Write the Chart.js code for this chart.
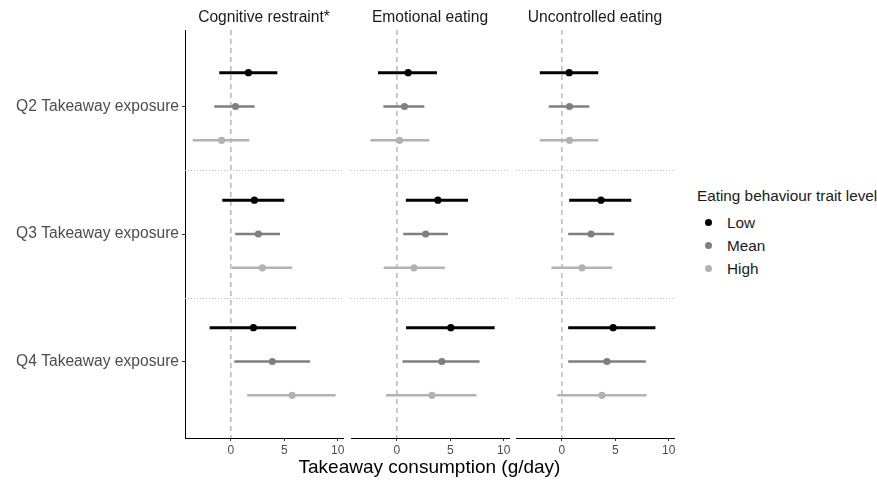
<!DOCTYPE html>
<html lang="en">
<head>
  <meta charset="UTF-8">
  <title>Takeaway consumption</title>
  <style>
    body { margin: 0; background: #fff; font-family: "Liberation Sans", Arial, sans-serif; }
    #wrap { position: relative; width: 877px; height: 484px; overflow: hidden; }
    canvas { position: absolute; top: 0; }
    .strip { position: absolute; top: 8px; width: 158px; text-align: center; font-size: 15.6px; color: #1a1a1a; white-space: nowrap; }
    .xtitle { position: absolute; left: 185px; width: 489px; top: 456px; text-align: center; font-size: 19px; color: #000; }
    .legend { position: absolute; left: 697px; top: 187px; font-size: 15.3px; color: #1a1a1a; white-space: nowrap; }
    .legend .item { position: relative; height: 23px; line-height: 23px; padding-left: 30px; }
    .legend .dot { position: absolute; left: 8px; top: 8px; width: 7px; height: 7px; border-radius: 50%; }
  </style>
</head>
<body>
  <div id="wrap">
    <canvas id="p0" width="353" height="484" style="left:0px"></canvas>
    <canvas id="p1" width="178" height="484" style="left:341px"></canvas>
    <canvas id="p2" width="178" height="484" style="left:506px"></canvas>
    <div class="strip" style="left:185px">Cognitive restraint*</div>
    <div class="strip" style="left:351px">Emotional eating</div>
    <div class="strip" style="left:516px">Uncontrolled eating</div>
    <div class="xtitle">Takeaway consumption (g/day)</div>
    <div class="legend" id="legend">
      <div style="margin-bottom:6px">Eating behaviour trait level</div>
    </div>
  </div>

  <script src="https://cdn.jsdelivr.net/npm/chart.js"></script>
  <script>
    const categories = ['Q2 Takeaway exposure', 'Q3 Takeaway exposure', 'Q4 Takeaway exposure'];
    const traits = ['Cognitive restraint*', 'Emotional eating', 'Uncontrolled eating'];
    const levels = ['Low', 'Mean', 'High'];
    const xTicks = [0, 5, 10];

    // rows: Low, Mean, High ; columns: Q2, Q3, Q4
    const cognitiveEst = [[1.64, 2.20, 2.11], [0.43, 2.57, 3.88], [-0.87, 2.95, 5.74]];
    const cognitiveLo  = [[-1.09, -0.81, -1.99], [-1.56, 0.40, 0.31], [-3.58, 0.09, 1.52]];
    const cognitiveHi  = [[4.35, 5.00, 6.11], [2.23, 4.60, 7.42], [1.73, 5.74, 9.81]];

    const emotionalEst = [[1.05, 3.84, 5.05], [0.71, 2.70, 4.21], [0.25, 1.61, 3.28]];
    const emotionalLo  = [[-1.77, 0.84, 0.86], [-1.27, 0.59, 0.52], [-2.48, -1.24, -1.02]];
    const emotionalHi  = [[3.75, 6.66, 9.16], [2.57, 4.77, 7.74], [3.03, 4.49, 7.46]];

    const uncontrolledEst = [[0.68, 3.66, 4.80], [0.71, 2.73, 4.22], [0.71, 1.89, 3.75]];
    const uncontrolledLo  = [[-2.07, 0.68, 0.59], [-1.23, 0.59, 0.59], [-2.07, -0.99, -0.43]];
    const uncontrolledHi  = [[3.41, 6.50, 8.76], [2.57, 4.89, 7.86], [3.41, 4.71, 7.93]];

    const panels = [
      [cognitiveEst, cognitiveLo, cognitiveHi],
      [emotionalEst, emotionalLo, emotionalHi],
      [uncontrolledEst, uncontrolledLo, uncontrolledHi]
    ];

    const colors = ['#000000', '#7f7f7f', '#b2b2b2'];
    const dodge = [-0.265, 0, 0.265];
    const font = 'Liberation Sans, Arial, sans-serif';

    // legend
    const legend = document.getElementById('legend');
    levels.forEach((l, i) => {
      const d = document.createElement('div');
      d.className = 'item';
      d.innerHTML = `<span class="dot" style="background:${colors[i]}"></span>${l}`;
      legend.appendChild(d);
    });

    const refLines = {
      id: 'refLines',
      beforeDatasetsDraw(chart) {
        const { ctx, chartArea: a, scales: { x, y } } = chart;
        ctx.save();
        ctx.lineWidth = 1;
        ctx.strokeStyle = '#bdbdbd';
        ctx.setLineDash([1, 2]);
        for (let i = 0; i < categories.length - 1; i++) {
          const py = Math.round(y.getPixelForValue(i + 1.5)) + 0.5;
          ctx.beginPath(); ctx.moveTo(a.left, py); ctx.lineTo(a.right, py); ctx.stroke();
        }
        ctx.strokeStyle = '#a6a6a6';
        ctx.lineWidth = 1.2;
        ctx.setLineDash([5, 4]);
        const px = x.getPixelForValue(0);
        ctx.beginPath(); ctx.moveTo(px, a.top); ctx.lineTo(px, a.bottom); ctx.stroke();
        ctx.restore();
      }
    };

    panels.forEach((p, k) => {
      const [est, lo, hi] = p;
      const datasets = [];
      levels.forEach((lev, li) => {
        datasets.push({
          type: 'scatter',
          label: lev,
          data: categories.map((c, ci) => ({ x: est[li][ci], y: ci + 1 + dodge[li] })),
          backgroundColor: colors[li],
          borderColor: colors[li],
          pointRadius: 3.6,
          pointBorderWidth: 0,
          order: 0
        });
        categories.forEach((c, ci) => {
          datasets.push({
            type: 'line',
            data: [{ x: lo[li][ci], y: ci + 1 + dodge[li] }, { x: hi[li][ci], y: ci + 1 + dodge[li] }],
            borderColor: colors[li],
            borderWidth: li === 0 ? 3 : 2.6,
            pointRadius: 0,
            fill: false,
            order: 1
          });
        });
      });

      new Chart(document.getElementById('p' + k), {
        type: 'scatter',
        data: { datasets },
        plugins: [refLines],
        options: {
          responsive: false,
          animation: false,
          events: [],
          layout: { padding: { top: 30, bottom: 26, left: k === 0 ? 0 : 10, right: 10 } },
          plugins: { legend: { display: false }, tooltip: { enabled: false } },
          scales: {
            x: {
              type: 'linear', min: -4.3, max: 10.5,
              afterBuildTicks: s => { s.ticks = xTicks.map(v => ({ value: v })); },
              afterFit: s => { s.height = 20; },
              grid: { drawOnChartArea: false, drawTicks: true, tickLength: 3, color: '#333' },
              border: { display: true, color: '#000', width: 1 },
              ticks: { padding: 2, color: '#4d4d4d', font: { family: font, size: 12 }, maxRotation: 0 }
            },
            y: {
              type: 'linear', min: 0.4, max: 3.6, reverse: true,
              display: k === 0,
              afterBuildTicks: s => { s.ticks = categories.map((c, i) => ({ value: i + 1 })); },
              afterFit: s => { if (k === 0) s.width = 185; },
              grid: { drawOnChartArea: false, drawTicks: true, tickLength: 3, color: '#333' },
              border: { display: true, color: '#000', width: 1 },
              ticks: {
                padding: 3, color: '#4d4d4d', font: { family: font, size: 15.6 },
                callback: v => categories[Math.round(v) - 1]
              }
            }
          }
        }
      });
    });
  </script>
</body>
</html>
